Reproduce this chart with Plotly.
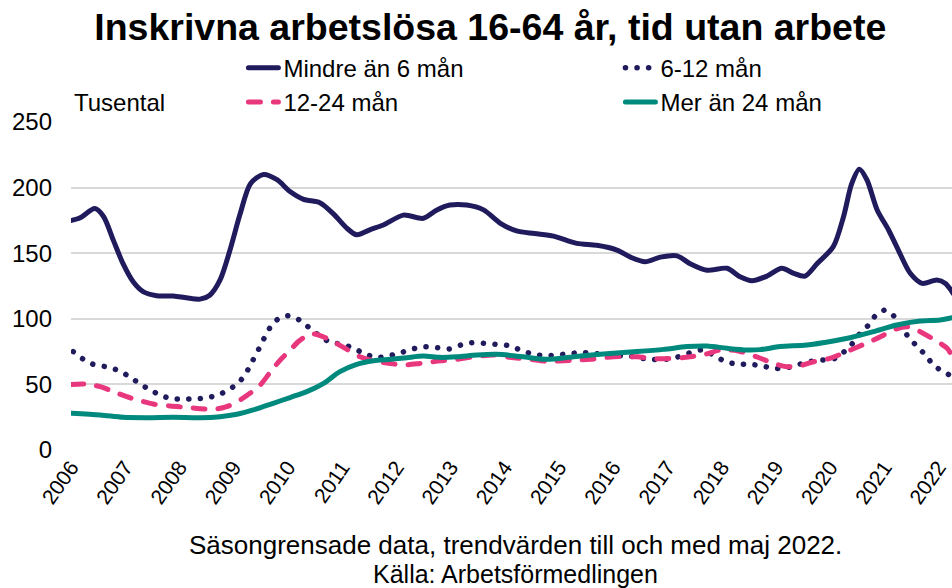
import plotly.graph_objects as go

# ---- Data (thousands); x = decimal year ----
years = list(range(2006, 2023))
year_labels = [str(y) for y in years]

mindre_x = [2006.01, 2006.17, 2006.44, 2006.60, 2006.78, 2006.96, 2007.15, 2007.33, 2007.58, 2007.89,
            2008.13, 2008.38, 2008.56, 2008.75, 2008.93, 2009.12, 2009.31, 2009.55, 2009.80, 2010.04,
            2010.29, 2010.59, 2010.84, 2011.09, 2011.27, 2011.52, 2011.76, 2012.13, 2012.50, 2012.75,
            2012.99, 2013.30, 2013.61, 2013.92, 2014.22, 2014.55, 2014.90, 2015.33, 2015.70, 2016.07,
            2016.32, 2016.59, 2016.87, 2017.18, 2017.42, 2017.73, 2018.10, 2018.34, 2018.56, 2018.84,
            2019.11, 2019.33, 2019.54, 2019.76, 2020.06, 2020.25, 2020.40, 2020.54, 2020.68, 2020.87,
            2021.08, 2021.26, 2021.48, 2021.70, 2021.97, 2022.13, 2022.25, 2022.33]
mindre_y = [175, 177, 184, 178, 160, 142, 128, 120.7, 117.6, 117.4,
            116, 115, 118, 129.6, 152, 180, 203, 210, 206, 197,
            191, 188.5, 180, 169, 164, 168, 171.5, 179, 176.6, 183,
            186.7, 186.7, 183, 172.8, 167, 165, 163, 157.5, 156, 152.4,
            147, 143.5, 147, 148, 142, 137, 138.5, 132, 129, 132.6,
            138.5, 134.7, 132.6, 142, 155, 178, 203, 214, 206, 183,
            167.7, 152.4, 134.7, 127, 129.6, 127, 120.7, 116]

m6_12_x = [2006.04, 2006.22, 2006.41, 2006.64, 2006.85, 2007.06, 2007.24, 2007.44, 2007.64, 2007.86,
           2008.07, 2008.30, 2008.52, 2008.74, 2008.95, 2009.12, 2009.25, 2009.35, 2009.46, 2009.56,
           2009.67, 2009.82, 2010.04, 2010.24, 2010.41, 2010.59, 2010.79, 2011.01, 2011.22, 2011.42,
           2011.64, 2011.87, 2012.08, 2012.30, 2012.52, 2012.75, 2012.97, 2013.19, 2013.40, 2013.63,
           2013.85, 2014.08, 2014.29, 2014.51, 2014.73, 2014.96, 2015.18, 2015.40, 2015.64, 2015.85,
           2016.07, 2016.30, 2016.53, 2016.74, 2016.98, 2017.21, 2017.42, 2017.65, 2017.85, 2018.05,
           2018.27, 2018.50, 2018.73, 2018.94, 2019.16, 2019.39, 2019.61, 2019.83, 2020.05, 2020.25,
           2020.40, 2020.54, 2020.70, 2020.84, 2021.02, 2021.19, 2021.32, 2021.45, 2021.60, 2021.76,
           2021.90, 2022.08, 2022.22, 2022.33]
m6_12_y = [75, 69.4, 65.3, 63.5, 61, 56.4, 51.3, 46.3, 42, 39,
           38.9, 39, 39.9, 42.4, 47, 52.6, 60.2, 68, 76.7, 85,
           93.2, 99.8, 102.4, 98.3, 92.7, 86.9, 82, 80.5, 77.5, 73.2,
           70.6, 71.9, 74.2, 77, 78.7, 78, 77, 80, 81.8, 81.3,
           80.5, 79.5, 76.2, 73.2, 71.9, 72.4, 73.4, 74.2, 73.7, 72.5,
           72, 71.6, 69.8, 69.1, 69.1, 71.1, 74.2, 76.2, 72.4, 67.8,
           65.5, 65.3, 64.3, 62.3, 62.3, 64.8, 67.3, 68.5, 69.1, 74.5,
           80.5, 88.2, 94.8, 102.4, 106.7, 101.6, 94, 85.9, 79.3, 72.4,
           65.3, 59.7, 57, 55]

m12_24_x = [2006.01, 2006.26, 2006.54, 2006.78, 2007.03, 2007.27, 2007.52, 2007.83, 2008.13, 2008.38,
            2008.63, 2008.87, 2009.12, 2009.30, 2009.49, 2009.67, 2009.86, 2010.04, 2010.19, 2010.32,
            2010.47, 2010.65, 2010.84, 2011.09, 2011.33, 2011.58, 2011.89, 2012.13, 2012.44, 2012.81,
            2013.12, 2013.42, 2013.79, 2014.10, 2014.47, 2014.78, 2015.21, 2015.58, 2016.01, 2016.44,
            2016.81, 2017.30, 2017.73, 2017.97, 2018.31, 2018.68, 2018.96, 2019.20, 2019.45, 2019.70,
            2020.00, 2020.31, 2020.62, 2020.93, 2021.17, 2021.42, 2021.60, 2021.91, 2022.16, 2022.25,
            2022.33]
m12_24_y = [50, 50.3, 48.3, 44.5, 40.6, 37.6, 35, 33.5, 32.5, 31.5,
            31, 33, 38.1, 43.2, 49.5, 59, 68.6, 76, 82.5, 86.3,
            88.4, 86.3, 82.5, 76.7, 71.1, 68, 66, 64.8, 66, 68,
            69.1, 71.1, 72.4, 70.6, 69.1, 67.6, 68.3, 69.1, 71.1, 71,
            69.5, 70.5, 73.3, 76.2, 75.5, 70.5, 66, 63.5, 64.3, 67.3,
            69.9, 75, 80.5, 86.3, 91.5, 94, 91.5, 84.4, 77.5, 72,
            68]

mer24_x = [2006.01, 2006.54, 2006.96, 2007.40, 2007.89, 2008.38, 2008.75, 2009.06, 2009.36, 2009.73,
           2010.04, 2010.35, 2010.66, 2010.96, 2011.27, 2011.58, 2011.89, 2012.19, 2012.50, 2012.81,
           2013.12, 2013.49, 2013.85, 2014.16, 2014.47, 2014.78, 2015.27, 2015.82, 2016.44, 2016.93,
           2017.36, 2017.73, 2018.10, 2018.47, 2018.71, 2019.08, 2019.57, 2020.06, 2020.37, 2020.80,
           2021.23, 2021.66, 2022.03, 2022.25, 2022.33]
mer24_y = [28, 26.7, 24.9, 24.6, 24.9, 24.6, 25.4, 27.2, 30.5, 35.6,
           40, 44.5, 50.8, 59.7, 65.3, 68, 69.1, 70.4, 71.6, 70.6,
           71.1, 72.4, 72.9, 71.9, 70.4, 69.1, 71.1, 73.2, 75, 76.7,
           78.8, 79.3, 77.5, 76.2, 76.5, 78.8, 80, 83.1, 85.6, 90.2,
           95.3, 98.3, 99.1, 100.8, 101.3]

y_ticks = [0, 50, 100, 150, 200, 250]

NAVY = "#1F1B5C"
PINK = "#E8377D"
TEAL = "#00897D"
FONT = "Liberation Sans, Arial, sans-serif"

fig = go.Figure()
fig.add_trace(go.Scatter(x=mindre_x, y=mindre_y, name="Mindre än 6 mån", mode="lines",
                         line=dict(color=NAVY, width=5, shape="spline", smoothing=0.8)))
fig.add_trace(go.Scatter(x=m6_12_x, y=m6_12_y, name="6-12 mån", mode="lines",
                         line=dict(color=NAVY, width=5.5, dash="0.1px,11.5px", shape="spline", smoothing=0.8)))
fig.add_trace(go.Scatter(x=m12_24_x, y=m12_24_y, name="12-24 mån", mode="lines",
                         line=dict(color=PINK, width=5, dash="12px,13px", shape="spline", smoothing=0.8)))
fig.add_trace(go.Scatter(x=mer24_x, y=mer24_y, name="Mer än 24 mån", mode="lines",
                         line=dict(color=TEAL, width=5, shape="spline", smoothing=0.8)))

fig.update_layout(
    width=952, height=588,
    margin=dict(l=71, r=0, t=122, b=138, autoexpand=False),
    paper_bgcolor="white", plot_bgcolor="white",
    font=dict(family=FONT, size=24, color="black"),
    title=dict(text="<b>Inskrivna arbetslösa 16-64 år, tid utan arbete</b>",
               x=0.515, xanchor="center", y=0.955, yanchor="middle",
               font=dict(family=FONT, size=37.5, color="black")),
    showlegend=True,
    legend=dict(orientation="h", x=0.1957, xanchor="left", y=1.233, yanchor="top",
                entrywidth=332, entrywidthmode="pixels", traceorder="normal",
                font=dict(family=FONT, size=24, color="black"),
                bgcolor="rgba(0,0,0,0)", itemclick=False, itemdoubleclick=False),
    xaxis=dict(range=[2006, 2022.25], tickmode="array", tickvals=years, ticktext=year_labels,
               tickangle=-55, showgrid=False, zeroline=False,
               showline=False, ticks="",
               tickfont=dict(family=FONT, size=21, color="black")),
    yaxis=dict(range=[0, 250], tickmode="array", tickvals=y_ticks, showgrid=True,
               gridcolor="#D9D9D9", gridwidth=2, zeroline=False, showline=False, ticks="",
               ticklabelstandoff=18, tickfont=dict(family=FONT, size=24, color="black")),
    annotations=[
        dict(text="Tusental", xref="paper", yref="paper", x=0.001, y=1.058,
             xanchor="left", yanchor="middle", showarrow=False,
             font=dict(family=FONT, size=24, color="black")),
        dict(text="Säsongrensade data, trendvärden till och med maj 2022.", xref="paper", yref="paper",
             x=0.504, y=-0.290, xanchor="center", yanchor="middle", showarrow=False,
             font=dict(family=FONT, size=26, color="black")),
        dict(text="Källa: Arbetsförmedlingen", xref="paper", yref="paper",
             x=0.504, y=-0.378, xanchor="center", yanchor="middle", showarrow=False,
             font=dict(family=FONT, size=25, color="black")),
    ],
)

post = """
document.body.style.margin='0px';
(function(){
  function roundCaps(){
    document.querySelectorAll('.scatterlayer path.js-line, .legend path.js-line').forEach(function(p){
      p.style.strokeLinecap='round'; p.style.strokeLinejoin='round';
    });
  }
  roundCaps();
  var gd = document.getElementById('{plot_id}');
  if (gd && gd.on) { gd.on('plotly_afterplot', roundCaps); }
  setTimeout(roundCaps, 0);
})();
"""

fig.write_html("out.html", post_script=post, config={"displayModeBar": False})
